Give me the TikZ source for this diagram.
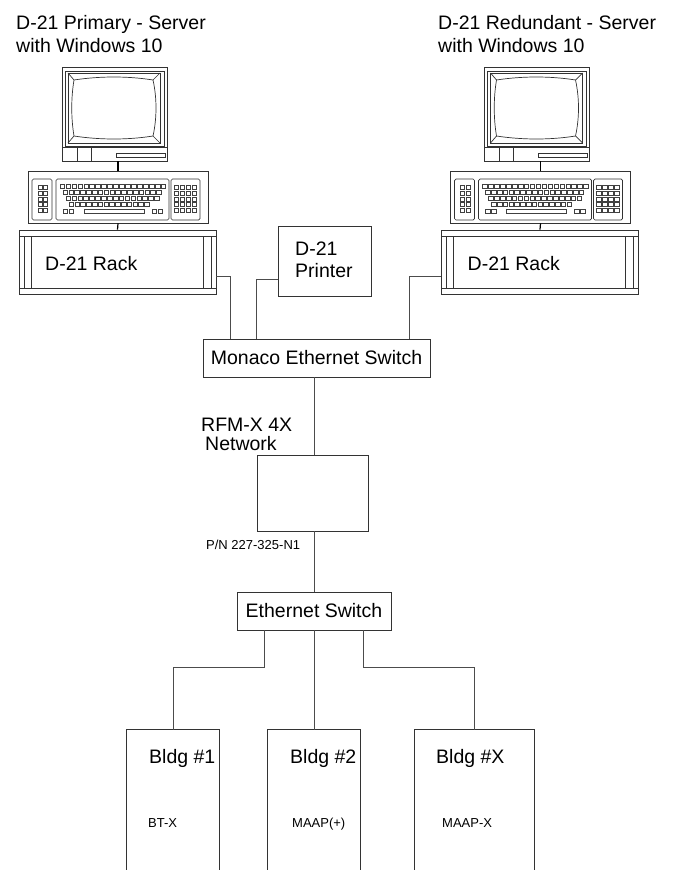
\documentclass[tikz,border=0pt]{standalone}
\usepackage{fontspec}
\setmainfont{Liberation Sans}
\usetikzlibrary{positioning}

\begin{document}
\begin{tikzpicture}[
    x=1pt, y=-1pt,
    box/.style={rectangle, draw=black!80, line width=0.9pt, inner sep=0pt},
    part/.style={draw=black!80, line width=0.7pt},
    key/.style={draw=black!75, line width=0.6pt},
    neck/.style={draw=black, line width=1.6pt},
    conn/.style={draw=black!70, line width=0.9pt},
    labl/.style={anchor=base west, inner sep=0pt, font=\fontsize{19.5}{22}\selectfont},
    smalllabl/.style={anchor=base west, inner sep=0pt, font=\fontsize{13}{15}\selectfont}
  ]
  \useasboundingbox (0,0) rectangle (674,870);

  %% Two workstations (monitor, keyboard, rack)
  \foreach \ox/\n in {0/1, 422.5/2}{
    \begin{scope}[xshift=\ox pt]
      %% Monitor
      \node[box, minimum width=105pt, minimum height=94pt] (mon\n) at (114.5,114) {};
      \draw[part] (65,71) rectangle (164,146);
      \draw[part, line width=1pt] (68,73) rectangle (160,143);
      \draw[part] (74,80) .. controls (100,76) and (128,76) .. (153,80)
        .. controls (157,98) and (157,118) .. (153,136)
        .. controls (128,140) and (100,140) .. (74,136)
        .. controls (71,118) and (71,98) .. (74,80) -- cycle;
      \draw[part] (68,73) -- (74,80) (160,73) -- (153,80) (160,143) -- (153,136) (68,143) -- (74,136);
      \draw[part] (62,147) -- (167,147);
      \draw[part] (77,147) -- (77,161) (91,147) -- (91,161);
      \draw[part] (116,153) rectangle (165,157);

      %% Keyboard
      \node[box, minimum width=180pt, minimum height=52pt] (kbd\n) at (118,197) {};
      \draw[part, rounded corners=1.5pt] (32,179) rectangle (52,220);
      \draw[part, rounded corners=1.5pt] (56,179) rectangle (169,220);
      \draw[part, rounded corners=1.5pt] (171,179) rectangle (200,220);
      \foreach \r in {0,...,4}{
        \foreach \c in {0,1}{
          \draw[key] ({38+5.5*\c},{185+5.9*\r}) rectangle ++(4,4);
        }
        \foreach \c in {0,...,3}{
          \draw[key] ({174+6*\c},{185+5.9*\r}) rectangle ++(4.5,4);
        }
      }
      \foreach \c in {0,...,17}{\draw[key] ({60+5.95*\c},184) rectangle ++(4.6,4.4);}
      \foreach \c in {0,...,16}{\draw[key] ({63+5.85*\c},190.5) rectangle ++(4.6,4);}
      \foreach \c in {0,...,15}{\draw[key] ({66+5.9*\c},196.5) rectangle ++(4.6,4);}
      \foreach \c in {0,...,13}{\draw[key] ({69+5.8*\c},202.5) rectangle ++(4.6,4);}
      \foreach \kx in {63,69,152,158}{\draw[key] (\kx,209) rectangle ++(4.4,4);}
      \draw[key] (84,209) rectangle (144,213);

      %% Rack
      \node[box, minimum width=197pt, minimum height=64pt] (rack\n) at (117.5,262) {};
      \draw[part] (19,236) -- (216,236) (19,288) -- (216,288);
      \draw[part] (24,236) -- (24,288) (31,236) -- (31,288);
      \draw[part] (203,236) -- (203,288) (211,236) -- (211,288);
      \node[labl] (racktxt\n) at (45,270) {D-21 Rack};

      \draw[neck] (kbd\n.north) -- (kbd\n.north |- mon\n.south);
      \draw[neck, line width=1.2pt] (kbd\n.south) -- (rack\n.north);
    \end{scope}
  }

  %% Server captions
  \node[labl] (cap1a) at (16,29) {D-21 Primary - Server};
  \node[labl] (cap1b) at (16,52) {with Windows 10};
  \node[labl] (cap2a) at (438,29) {D-21 Redundant - Server};
  \node[labl] (cap2b) at (438,52) {with Windows 10};

  %% Printer and switches
  \node[box, minimum width=93pt, minimum height=70pt] (printer) at (324.5,261) {};
  \node[labl] (prn1) at (295,255) {D-21};
  \node[labl] (prn2) at (295,277) {Printer};
  \node[box, minimum width=227pt, minimum height=38pt, labl, anchor=center] (monaco) at (316.5,358) {Monaco Ethernet Switch};
  \node[box, minimum width=111pt, minimum height=76pt] (rfm) at (312.5,493) {};
  \node[box, minimum width=154pt, minimum height=38pt, labl, anchor=center] (ethsw) at (314,611) {Ethernet Switch\hspace{4pt}};

  %% Network captions
  \node[labl] (rfm1) at (201,431) {RFM-X 4X};
  \node[labl] (rfm2) at (205,450) {Network};
  \node[smalllabl] (pn) at (206,549) {P/N 227-325-N1};

  %% Buildings, open at the bottom
  \foreach \cx/\w/\n/\tx/\stx/\sub in {173/92/1/149/148/BT-X, 314/92/2/290/292/MAAP(+), 474.5/119/X/436/442/MAAP-X}{
    \node[minimum width=\w pt, minimum height=140pt, inner sep=0pt] (bldg\n) at (\cx,800) {};
    \draw[box] (bldg\n.south west) -- (bldg\n.north west) -- (bldg\n.north east) -- (bldg\n.south east);
    \node[labl] (bname\n) at (\tx,763) {Bldg \#\n};
    \node[smalllabl] (bsub\n) at (\stx,827) {\sub};
  }

  %% Connections
  \draw[conn] ([yshift=-14pt]rack1.east) -| ([xshift=28pt]monaco.north west);
  \draw[conn] ([yshift=-18pt]printer.west) -| ([xshift=53.5pt]monaco.north west);
  \draw[conn] ([yshift=-14pt]rack2.west) -| ([xshift=-21pt]monaco.north east);
  \draw[conn] (ethsw.north |- monaco.south) -- (ethsw.north |- rfm.north);
  \draw[conn] (ethsw.north |- rfm.south) -- (ethsw.north);
  \draw[conn] ([xshift=28pt]ethsw.south west) -- ++(0,37) -| (bldg1.north);
  \draw[conn] (ethsw.south) -- (bldg2.north);
  \draw[conn] ([xshift=-28pt]ethsw.south east) -- ++(0,37) -| (bldgX.north);

\end{tikzpicture}
\end{document}
